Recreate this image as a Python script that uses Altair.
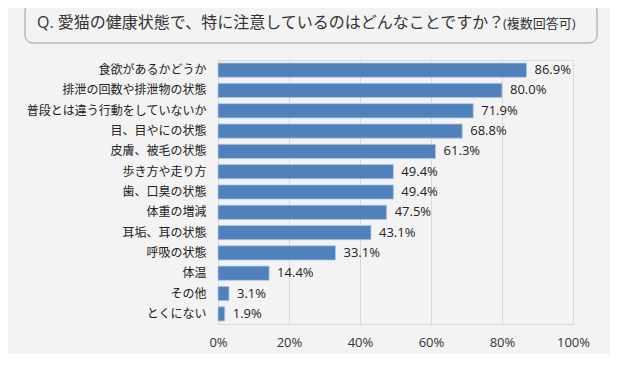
import altair as alt
import pandas as pd

categories = ["食欲があるかどうか", "排泄の回数や排泄物の状態", "普段とは違う行動をしていないか",
              "目、目やにの状態", "皮膚、被毛の状態", "歩き方や走り方", "歯、口臭の状態",
              "体重の増減", "耳垢、耳の状態", "呼吸の状態", "体温", "その他", "とくにない"]
values = [86.9, 80.0, 71.9, 68.8, 61.3, 49.4, 49.4, 47.5, 43.1, 33.1, 14.4, 3.1, 1.9]
title_main = "Q. 愛猫の健康状態で、特に注意しているのはどんなことですか？"
title_sub = "(複数回答可)"

df = pd.DataFrame({"cat": categories, "val": values,
                   "label": [f"{v:.1f}%" for v in values]})

FONT = "Open Sans, Noto Sans CJK JP"
W, H = 355, 264

x = alt.X("val:Q", scale=alt.Scale(domain=[0, 100]),
          axis=alt.Axis(values=[0, 20, 40, 60, 80, 100], labelExpr="datum.value + '%'",
                        title=None, grid=True, gridColor="#d9d9d9", domainColor="#d9d9d9",
                        ticks=False, labelPadding=12, labelFontSize=13, labelColor="#333",
                        labelFont=FONT, labelFlush=False))
y = alt.Y("cat:N", sort=categories, scale=alt.Scale(paddingInner=0.3, paddingOuter=0.15),
          axis=alt.Axis(title=None, ticks=False, domainColor="#d9d9d9", labelPadding=12,
                        labelFontSize=12, labelColor="#222", labelFont=FONT, labelLimit=0))

base = alt.Chart(df)
bars = base.mark_bar(color="#4F81BD", stroke="#b4c8e4", strokeWidth=0.8).encode(x=x, y=y)
texts = base.mark_text(align="left", dx=8, fontSize=13, color="#222", font=FONT).encode(
    x="val:Q", y=alt.Y("cat:N", sort=categories), text="label:N")

box = alt.Chart(pd.DataFrame({"a": [0]})).mark_rect(
    fill="#f3f3f3", stroke="#9a9a9a", strokeWidth=1, cornerRadius=8, clip=False).encode(
    x=alt.value(-193), x2=alt.value(379), y=alt.value(-57), y2=alt.value(-17))
t1 = alt.Chart(pd.DataFrame({"t": [title_main]})).mark_text(
    align="left", baseline="middle", fontSize=16, color="#333", font=FONT, clip=False).encode(
    x=alt.value(-181), y=alt.value(-37), text="t:N")
t2 = alt.Chart(pd.DataFrame({"t": [title_sub]})).mark_text(
    align="left", baseline="middle", fontSize=13, color="#333", font=FONT, clip=False).encode(
    x=alt.value(285), y=alt.value(-36), text="t:N")

chart = alt.layer(box, t1, t2, bars, texts).properties(
    width=W, height=H, background="#f3f3f3",
    autosize=alt.AutoSizeParams(type="none"),
    padding={"left": 210, "top": 52, "right": 37, "bottom": 30},
).configure_view(stroke="#d9d9d9", strokeWidth=1)

chart.save("out.html", embed_options={"renderer": "svg", "actions": False})
